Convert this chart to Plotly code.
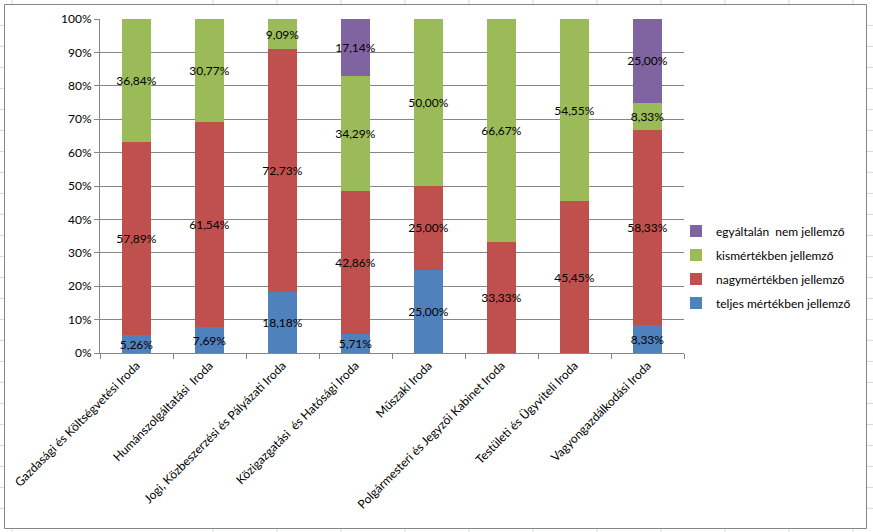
import plotly.graph_objects as go

categories = [
    "Gazdasági és Költségvetési Iroda",
    "Humánszolgáltatási  Iroda",
    "Jogi, Közbeszerzési és Pályázati Iroda",
    "Közigazgatási  és Hatósági Iroda",
    "Műszaki Iroda",
    "Polgármesteri és Jegyzői Kabinet Iroda",
    "Testületi és Ügyviteli Iroda",
    "Vagyongazdálkodási Iroda",
]
teljes = [5.26, 7.69, 18.18, 5.71, 25.00, 0, 0, 8.33]
nagy = [57.89, 61.54, 72.73, 42.86, 25.00, 33.33, 45.45, 58.33]
kis = [36.84, 30.77, 9.09, 34.29, 50.00, 66.67, 54.55, 8.33]
egyaltalan = [0, 0, 0, 17.14, 0, 0, 0, 25.00]
series_names = ["teljes mértékben jellemző", "nagymértékben jellemző",
                "kismértékben jellemző", "egyáltalán  nem jellemző"]
series_values = [teljes, nagy, kis, egyaltalan]
colors = ["#4F81BD", "#C0504D", "#9BBB59", "#8064A2"]
y_ticks = list(range(0, 101, 10))
y_ticktext = [f"{v}%" for v in y_ticks]

W, H = 873, 532
L, R, T, B = 100, 684, 19, 353  # plot area in px

def fx(px):
    return (px - L) / (R - L)

def fy(py):
    return (B - py) / (B - T)

FONT = "Lato"
fig = go.Figure()
n = len(series_names)
for i, (name, vals, col) in enumerate(zip(series_names, series_values, colors)):
    txt = [f"{v:.2f}%".replace(".", ",") if v > 0 else "" for v in vals]
    fig.add_trace(go.Bar(
        x=categories, y=vals, name=name, marker_color=col,
        marker_line_width=0, text=txt, textposition="inside",
        insidetextanchor="middle", textangle=0,
        textfont=dict(family=FONT, size=12, color="#000000"),
        insidetextfont=dict(family=FONT, size=12, color="#000000"),
        legendgroup=name, legendrank=n - i, hoverinfo="skip",
    ))

shapes = []
grid_col = "#D0D7E5"
# spreadsheet column lines (top and bottom strips)
for cx in [12] + [213 + 64 * k for k in range(11)]:
    shapes.append(dict(type="line", xref="paper", yref="paper",
                       x0=fx(cx), x1=fx(cx), y0=fy(0), y1=fy(4),
                       line=dict(color=grid_col, width=1), layer="below"))
    shapes.append(dict(type="line", xref="paper", yref="paper",
                       x0=fx(cx), x1=fx(cx), y0=fy(529), y1=fy(532),
                       line=dict(color=grid_col, width=1), layer="below"))
# spreadsheet row lines (left and right strips)
for k in range(24):
    ry = 25.4 + 21 * k
    shapes.append(dict(type="line", xref="paper", yref="paper",
                       x0=fx(0), x1=fx(4), y0=fy(ry), y1=fy(ry),
                       line=dict(color=grid_col, width=1), layer="below"))
    shapes.append(dict(type="line", xref="paper", yref="paper",
                       x0=fx(867), x1=fx(873), y0=fy(ry), y1=fy(ry),
                       line=dict(color=grid_col, width=1), layer="below"))
# chart border
shapes.append(dict(type="rect", xref="paper", yref="paper",
                   x0=fx(4.5), x1=fx(866.5), y0=fy(4.5), y1=fy(528.5),
                   line=dict(color="#868686", width=1), layer="below"))

fig.update_layout(
    width=W, height=H,
    margin=dict(l=L, r=W - R, t=T, b=H - B, pad=0, autoexpand=False),
    paper_bgcolor="white", plot_bgcolor="white",
    barmode="stack", bargap=0.6,
    uniformtext=dict(minsize=12, mode="show"),
    font=dict(family=FONT, size=12, color="#000000"),
    showlegend=True,
    legend=dict(x=fx(676), xanchor="left", y=fy(267), yanchor="middle",
                traceorder="grouped", tracegroupgap=5,
                font=dict(family=FONT, size=12, color="#000000"),
                itemwidth=30, bgcolor="rgba(0,0,0,0)"),
    shapes=shapes,
)
fig.update_xaxes(
    tickangle=-45, showgrid=False, showline=True, linecolor="#868686",
    linewidth=1, ticks="outside", tickson="boundaries", ticklen=5,
    tickcolor="#868686", tickfont=dict(family=FONT, size=12, color="#000000"),
    fixedrange=True, automargin=False,
)
fig.update_yaxes(
    range=[0, 100], tickvals=y_ticks, ticktext=y_ticktext,
    showgrid=True, gridcolor="#868686", gridwidth=1, showline=True,
    linecolor="#868686", linewidth=1, ticks="outside", ticklen=5,
    tickcolor="#868686", tickfont=dict(family=FONT, size=12, color="#000000"),
    zeroline=False, fixedrange=True, automargin=False,
)
fig.write_html(
    "out.html",
    config={"displayModeBar": False},
    post_script="document.body.style.margin='0';document.body.style.padding='0';",
)
